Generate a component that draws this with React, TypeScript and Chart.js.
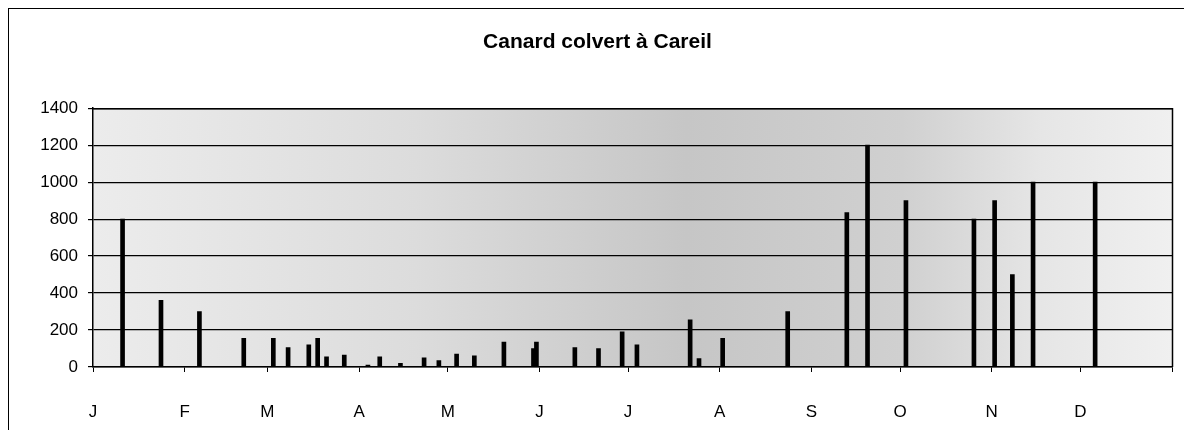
import React, { useEffect, useRef } from "react";
import { Chart, registerables } from "chart.js";

Chart.register(...registerables);

const title = "Canard colvert à Careil";
const monthLabels = ["J", "F", "M", "A", "M", "J", "J", "A", "S", "O", "N", "D"];
const monthStarts = [0, 31, 59, 90, 120, 151, 181, 212, 243, 273, 304, 334, 365];
const yTicks = [0, 200, 400, 600, 800, 1000, 1200, 1400];

// day of year of each count, and the count of ducks
const countDays = [
  10, 23, 36, 51, 61, 66, 73, 76, 79, 85, 93, 97, 104, 112, 117, 123, 129, 139,
  149, 150, 163, 171, 179, 184, 202, 205, 213, 235, 255, 262, 275, 298, 305, 311,
  318, 339,
];
const countValues = [
  800, 360, 300, 155, 155, 105, 120, 155, 55, 65, 10, 55, 20, 50, 35, 70, 60, 135,
  100, 135, 105, 100, 190, 120, 255, 45, 155, 300, 835, 1200, 900, 800, 900, 500,
  1000, 1000,
];

const FONT = "'Liberation Sans', Arial, sans-serif";

const backgroundPlugin = {
  id: "stippleBg",
  beforeDraw(chart: any) {
    const { ctx, chartArea } = chart;
    if (!chartArea) return;
    const { left, right, top, bottom } = chartArea;
    const g = ctx.createLinearGradient(left, 0, right, 0);
    g.addColorStop(0, "#ececec");
    g.addColorStop(0.3, "#dcdcdc");
    g.addColorStop(0.55, "#c6c6c6");
    g.addColorStop(0.75, "#d0d0d0");
    g.addColorStop(0.88, "#e6e6e6");
    g.addColorStop(1, "#f0f0f0");
    ctx.save();
    ctx.fillStyle = g;
    ctx.fillRect(left, top, right - left, bottom - top);
    ctx.restore();
  },
  afterDraw(chart: any) {
    const { ctx, chartArea } = chart;
    const { left, right, top, bottom } = chartArea;
    ctx.save();
    ctx.strokeStyle = "#000";
    ctx.lineWidth = 1.5;
    ctx.beginPath();
    ctx.moveTo(left, top + 0.5);
    ctx.lineTo(right + 0.5, top + 0.5);
    ctx.lineTo(right + 0.5, bottom);
    ctx.stroke();
    ctx.restore();
  },
};

export default function App() {
  const canvasRef = useRef<HTMLCanvasElement | null>(null);

  useEffect(() => {
    if (!canvasRef.current) return;
    const data = countDays.map((d, i) => ({ x: d, y: countValues[i] }));
    const chart = new Chart(canvasRef.current, {
      type: "bar",
      data: {
        datasets: [
          {
            data: data as any,
            backgroundColor: "#000",
            borderWidth: 0,
            barThickness: 4,
            grouped: false,
          } as any,
        ],
      },
      plugins: [backgroundPlugin],
      options: {
        animation: false,
        responsive: false,
        maintainAspectRatio: false,
        layout: { padding: { left: 0, right: 6, top: 0, bottom: 0 } },
        plugins: {
          legend: { display: false },
          tooltip: { enabled: false },
          title: {
            display: true,
            text: title,
            color: "#000",
            font: { family: FONT, size: 21, weight: "bold" },
            padding: { top: 21, bottom: 53 },
          },
        },
        scales: {
          x: {
            type: "linear",
            min: 0,
            max: 365,
            offset: false,
            afterBuildTicks: (scale: any) => {
              scale.ticks = monthStarts.map((v) => ({ value: v }));
            },
            afterFit: (scale: any) => {
              scale.height = 62;
              scale.paddingLeft = 0;
              scale.paddingRight = 20;
            },
            ticks: {
              autoSkip: false,
              maxRotation: 0,
              padding: 30,
              color: "#000",
              font: { family: FONT, size: 17 },
              callback: (v: any) => {
                const i = monthStarts.indexOf(Number(v));
                return i >= 0 && i < monthLabels.length ? monthLabels[i] : "";
              },
            },
            grid: {
              offset: false,
              drawOnChartArea: false,
              drawTicks: true,
              tickLength: 5,
              color: "#000",
            },
            border: { display: true, color: "#000", width: 1.5 },
          },
          y: {
            min: 0,
            max: 1400,
            afterBuildTicks: (scale: any) => {
              scale.ticks = yTicks.map((v) => ({ value: v }));
            },
            afterFit: (scale: any) => {
              scale.width = 84;
            },
            ticks: {
              padding: 10,
              color: "#000",
              font: { family: FONT, size: 17 },
              callback: (v: any) => String(v),
            },
            grid: {
              color: "#000",
              lineWidth: 1.2,
              tickLength: 5,
              drawTicks: true,
            },
            border: { display: true, color: "#000", width: 1.5 },
          },
        },
      },
    });
    return () => chart.destroy();
  }, []);

  return (
    <div
      style={{
        width: 1183,
        height: 421,
        borderLeft: "1px solid #000",
        borderTop: "1px solid #000",
        background: "#fff",
      }}
    >
      <canvas ref={canvasRef} width={1183} height={420} style={{ display: "block" }} />
    </div>
  );
}
